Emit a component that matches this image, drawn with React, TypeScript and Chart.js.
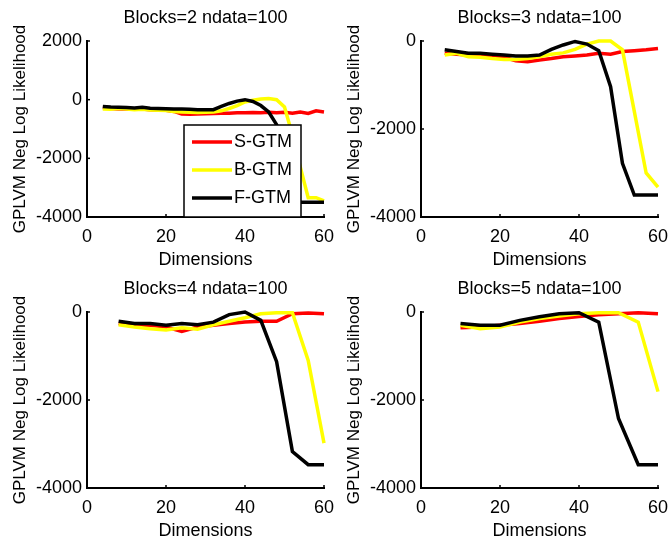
import React, { useEffect, useRef } from "react";
import { Chart, registerables } from "chart.js";

Chart.register(...registerables);

// ---------- data ----------
const seriesLabels = ["S-GTM", "B-GTM", "F-GTM"];
const seriesColors = ["#ff0000", "#ffff00", "#000000"];
const panelTitles = [
  "Blocks=2 ndata=100",
  "Blocks=3 ndata=100",
  "Blocks=4 ndata=100",
  "Blocks=5 ndata=100",
];
const xTickValues = [0, 20, 40, 60];
const yMaxTop = [2000, 0, 0, 0];

const dimsB2 = [4, 6, 8, 10, 12, 14, 16, 18, 20, 22, 24, 26, 28, 30, 32, 34, 36, 38, 40, 42, 44, 46, 48, 50, 52, 54, 56, 58, 60];
const sGtmB2 = [-270, -300, -320, -320, -330, -320, -340, -350, -360, -400, -490, -500, -490, -480, -470, -460, -460, -450, -450, -440, -450, -430, -450, -430, -460, -420, -470, -380, -420];
const bGtmB2 = [-320, -330, -300, -320, -340, -330, -350, -360, -370, -400, -420, -430, -440, -430, -420, -380, -300, -200, -80, -20, 20, 40, 0, -250, -1200, -2300, -3340, -3340, -3450];
const fGtmB2 = [-230, -250, -260, -270, -280, -260, -290, -300, -310, -320, -320, -330, -340, -340, -340, -230, -130, -50, 0, -60, -200, -420, -850, -1900, -3100, -3500, -3500, -3500, -3500];

const dimsB3 = [6, 9, 12, 15, 18, 21, 24, 27, 30, 33, 36, 39, 42, 45, 48, 51, 54, 57, 60];
const sGtmB3 = [-280, -300, -320, -340, -360, -370, -450, -470, -430, -400, -360, -340, -320, -280, -300, -240, -220, -200, -170];
const bGtmB3 = [-320, -280, -360, -370, -400, -420, -420, -400, -360, -300, -270, -190, -70, 0, 0, -200, -1600, -3000, -3320];
const fGtmB3 = [-200, -240, -280, -280, -300, -320, -340, -340, -320, -190, -90, -10, -70, -220, -1040, -2780, -3500, -3500, -3500];

const dimsB4 = [8, 12, 16, 20, 24, 28, 32, 36, 40, 44, 48, 52, 56, 60];
const sGtmB4 = [-260, -300, -300, -340, -440, -340, -300, -260, -230, -210, -210, -40, -20, -40];
const bGtmB4 = [-290, -340, -380, -410, -360, -390, -290, -210, -130, -40, -15, -15, -1100, -2980];
const fGtmB4 = [-210, -260, -260, -300, -260, -290, -230, -60, 0, -190, -1130, -3170, -3470, -3470];

const dimsB5 = [10, 15, 20, 25, 30, 35, 40, 45, 50, 55, 60];
const sGtmB5 = [-360, -340, -300, -260, -210, -150, -100, -60, -40, -15, -40];
const bGtmB5 = [-300, -380, -340, -230, -150, -90, -40, -15, -15, -230, -1810];
const fGtmB5 = [-260, -300, -300, -190, -110, -40, -15, -230, -2420, -3470, -3470];

const panelDims = [dimsB2, dimsB3, dimsB4, dimsB5];
const panelSeries = [
  [sGtmB2, bGtmB2, fGtmB2],
  [sGtmB3, bGtmB3, fGtmB3],
  [sGtmB4, bGtmB4, fGtmB4],
  [sGtmB5, bGtmB5, fGtmB5],
];

// ---------- styling ----------
const FONT = '"Liberation Sans", Arial, Helvetica, sans-serif';
const PW = 334;
const PH = 271;

const titlePlugin = {
  id: "matlabTitle",
  afterDraw(chart: any, _args: any, opts: any) {
    const { ctx, chartArea } = chart;
    ctx.save();
    ctx.fillStyle = "#000";
    ctx.font = `18px ${FONT}`;
    ctx.textAlign = "center";
    ctx.textBaseline = "middle";
    ctx.fillText(opts.text, (chartArea.left + chartArea.right) / 2, 18);
    ctx.restore();
  },
};

const inwardTicksPlugin = {
  id: "inwardTicks",
  beforeDatasetsDraw(chart: any) {
    const { ctx, chartArea: ca, scales } = chart;
    ctx.save();
    ctx.strokeStyle = "#000";
    ctx.lineWidth = 1.5;
    scales.x.ticks.forEach((t: any) => {
      const px = scales.x.getPixelForValue(t.value);
      ctx.beginPath();
      ctx.moveTo(px, ca.bottom);
      ctx.lineTo(px, ca.bottom - 3);
      ctx.stroke();
    });
    scales.y.ticks.forEach((t: any) => {
      const py = scales.y.getPixelForValue(t.value);
      ctx.beginPath();
      ctx.moveTo(ca.left, py);
      ctx.lineTo(ca.left + 3, py);
      ctx.stroke();
    });
    ctx.restore();
  },
};

const boxLegendPlugin = {
  id: "boxLegend",
  afterDraw(chart: any, _args: any, opts: any) {
    if (!opts || !opts.show) return;
    const { ctx, chartArea: ca } = chart;
    const left = ca.left + 97;
    const top = ca.top + 84;
    const w = 117;
    const h = ca.bottom - top;
    ctx.save();
    ctx.fillStyle = "#fff";
    ctx.fillRect(left, top, w, h);
    ctx.strokeStyle = "#000";
    ctx.lineWidth = 1.5;
    ctx.strokeRect(left, top, w, h);
    ctx.font = `18px ${FONT}`;
    ctx.textAlign = "left";
    ctx.textBaseline = "middle";
    chart.data.datasets
      .slice()
      .sort((a: any, b: any) => a.seriesIndex - b.seriesIndex)
      .forEach((ds: any, i: number) => {
        const y = top + 17 + i * 28;
        ctx.strokeStyle = ds.borderColor;
        ctx.lineWidth = 3.5;
        ctx.beginPath();
        ctx.moveTo(left + 8, y);
        ctx.lineTo(left + 48, y);
        ctx.stroke();
        ctx.fillStyle = "#000";
        ctx.fillText(ds.label, left + 50, y);
      });
    ctx.restore();
  },
};

function Panel({ index }: { index: number }) {
  const ref = useRef<HTMLCanvasElement | null>(null);

  useEffect(() => {
    if (!ref.current) return;
    const dims = panelDims[index];
    const datasets = panelSeries[index].map((vals, si) => ({
      label: seriesLabels[si],
      seriesIndex: si,
      data: dims.map((d, k) => ({ x: d, y: vals[k] })),
      borderColor: seriesColors[si],
      backgroundColor: seriesColors[si],
      borderWidth: 3.5,
      pointRadius: 0,
      tension: 0,
      fill: false,
      clip: false as any,
      order: 2 - si,
    }));

    const chart = new Chart(ref.current, {
      type: "line",
      data: { datasets: datasets as any },
      plugins: [titlePlugin, inwardTicksPlugin, boxLegendPlugin],
      options: {
        animation: false,
        responsive: false,
        devicePixelRatio: 1,
        events: [],
        layout: { padding: { top: 41, right: 10, bottom: 0, left: 0 } },
        plugins: {
          legend: { display: false },
          tooltip: { enabled: false },
          title: { display: false },
          matlabTitle: { text: panelTitles[index] },
          boxLegend: { show: index === 0 },
        } as any,
        scales: {
          x: {
            type: "linear",
            min: 0,
            max: 60,
            afterFit: (s: any) => {
              s.height = PH - 217;
              s.paddingLeft = 0;
              s.paddingRight = 0;
            },
            afterBuildTicks: (s: any) => {
              s.ticks = xTickValues.map((v) => ({ value: v }));
            },
            grid: { display: false, drawTicks: false },
            border: { display: true, color: "#000", width: 2 },
            ticks: {
              color: "#000",
              font: { family: FONT, size: 18 },
              padding: 9,
              maxRotation: 0,
              autoSkip: false,
              callback: (v: any) => String(v),
            },
            title: {
              display: true,
              text: "Dimensions",
              color: "#000",
              font: { family: FONT, size: 18 },
              padding: { top: 0, bottom: 0 },
            },
          },
          y: {
            type: "linear",
            min: -4000,
            max: yMaxTop[index],
            afterFit: (s: any) => {
              s.width = 87;
              s.paddingTop = 0;
              s.paddingBottom = 0;
            },
            ticks: {
              stepSize: 2000,
              color: "#000",
              font: { family: FONT, size: 18 },
              padding: 5,
              autoSkip: false,
              callback: (v: any) => String(v),
            },
            grid: { display: false, drawTicks: false },
            border: { display: true, color: "#000", width: 2 },
            title: {
              display: true,
              text: "GPLVM Neg Log Likelihood",
              color: "#000",
              font: { family: FONT, size: 17 },
              padding: { top: 10, bottom: 0 },
            },
          },
        },
      },
    });
    return () => chart.destroy();
  }, [index]);

  const col = index % 2;
  const row = Math.floor(index / 2);
  return (
    <canvas
      ref={ref}
      width={PW}
      height={PH}
      style={{ position: "absolute", left: col * PW, top: row * PH, width: PW, height: PH, display: "block" }}
    />
  );
}

export default function App() {
  return (
    <div style={{ position: "absolute", left: 0, top: 0, width: 668, height: 542, background: "#fff", overflow: "hidden" }}>
      {[0, 1, 2, 3].map((i) => (
        <Panel key={i} index={i} />
      ))}
    </div>
  );
}
